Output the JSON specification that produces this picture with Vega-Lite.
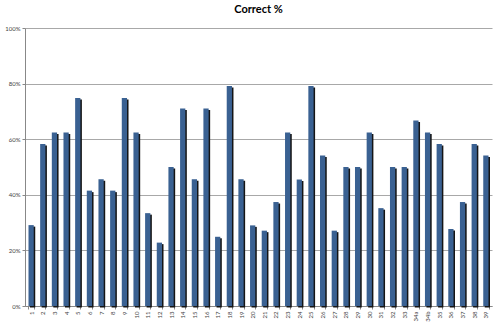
{
  "$schema": "https://vega.github.io/schema/vega-lite/v6.json",
  "width": 467,
  "height": 278,
  "autosize": {"type": "none"},
  "padding": {"left": 25, "top": 28, "right": 8, "bottom": 23},
  "background": "white",
  "title": {"text": "Correct %", "font": "Lato", "fontSize": 11, "fontWeight": "bold", "color": "#000", "offset": 10, "anchor": "middle"},
  "data": {"values": [
    {"q": "1", "v": 0.291}, {"q": "2", "v": 0.583}, {"q": "3", "v": 0.624}, {"q": "4", "v": 0.624},
    {"q": "5", "v": 0.748}, {"q": "6", "v": 0.415}, {"q": "7", "v": 0.456}, {"q": "8", "v": 0.415},
    {"q": "9", "v": 0.748}, {"q": "10", "v": 0.624}, {"q": "11", "v": 0.334}, {"q": "12", "v": 0.228},
    {"q": "13", "v": 0.5}, {"q": "14", "v": 0.71}, {"q": "15", "v": 0.456}, {"q": "16", "v": 0.71},
    {"q": "17", "v": 0.249}, {"q": "18", "v": 0.791}, {"q": "19", "v": 0.456}, {"q": "20", "v": 0.29},
    {"q": "21", "v": 0.271}, {"q": "22", "v": 0.374}, {"q": "23", "v": 0.624}, {"q": "24", "v": 0.455},
    {"q": "25", "v": 0.791}, {"q": "26", "v": 0.541}, {"q": "27", "v": 0.271}, {"q": "28", "v": 0.5},
    {"q": "29", "v": 0.5}, {"q": "30", "v": 0.624}, {"q": "31", "v": 0.352}, {"q": "32", "v": 0.5},
    {"q": "33", "v": 0.5}, {"q": "34a", "v": 0.667}, {"q": "34b", "v": 0.624}, {"q": "35", "v": 0.583},
    {"q": "36", "v": 0.277}, {"q": "37", "v": 0.374}, {"q": "38", "v": 0.583}, {"q": "39", "v": 0.541}
  ]},
  "encoding": {
    "x": {"field": "q", "type": "nominal", "sort": null,
      "scale": {"paddingInner": 0.55, "paddingOuter": 0.3},
      "axis": {"title": null, "labelAngle": 270, "labelFont": "Lato", "labelFontSize": 6, "labelColor": "#444",
        "domainColor": "#888", "tickColor": "#888", "tickSize": 3, "tickBand": "extent", "labelPadding": 2, "grid": false}},
    "y": {"field": "v", "type": "quantitative",
      "scale": {"domain": [0, 1], "nice": false},
      "axis": {"title": null, "format": ".0%", "values": [0, 0.2, 0.4, 0.6, 0.8, 1], "labelFont": "Lato", "labelFontSize": 6,
        "labelColor": "#444", "domainColor": "#888", "tickColor": "#888", "tickSize": 3, "gridColor": "#a8a8a8", "gridWidth": 1, "labelPadding": 2}}
  },
  "layer": [
    {"mark": {"type": "bar", "color": "#151515", "xOffset": 1.5, "yOffset": 1.5}},
    {"mark": {"type": "bar", "color": "#3a6192"}}
  ],
  "config": {"view": {"stroke": null}}
}
